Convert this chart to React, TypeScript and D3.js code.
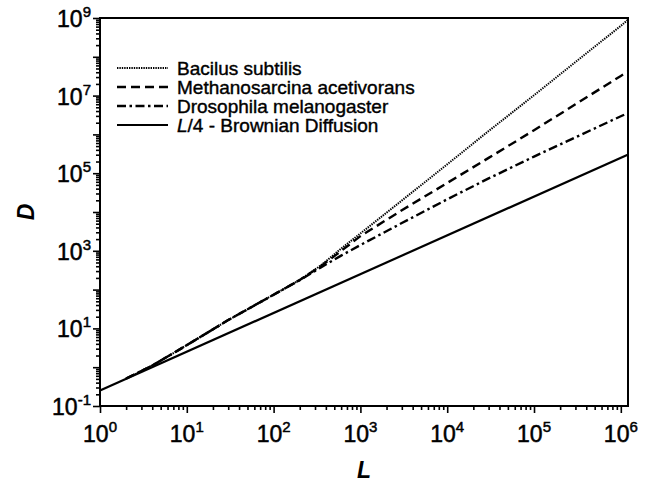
import React, { useRef, useEffect } from 'react';
import * as d3 from 'd3';

// values (L on x, D on y)
const lengths = [2, 4, 10, 30, 100, 200, 350, 600, 1000, 3000, 1e4, 3e4, 1e5, 3e5, 1e6, 1.2e6];
const bacilus = [0.51, 1.1, 3.7, 16.4, 73.8, 177, 419, 1138, 2805, 19720, 1.69e5, 1.22e6, 1.02e7, 7.33e7, 6.28e8, 8.85e8];
const methano = [0.51, 1.1, 3.7, 16.4, 73.8, 177, 400, 991, 2388, 11090, 55980, 2.48e5, 1.28e6, 5.96e6, 3.22e7, 4.14e7];
const drosophila = [0.51, 1.1, 3.7, 16.4, 73.8, 175, 373, 752, 1406, 5190, 21280, 73280, 2.68e5, 8.41e5, 2.94e6, 3.52e6];
const brownL = [1, 1.2e6];
const brownD = [0.25, 3e5];

const xExponents = [0, 1, 2, 3, 4, 5, 6];
const yExponents = [-1, 0, 1, 2, 3, 4, 5, 6, 7, 8, 9];
const yLabelExponents = [-1, 1, 3, 5, 7, 9];

const seriesNames = ['Bacilus subtilis', 'Methanosarcina acetivorans', 'Drosophila melanogaster'];

const FONT = '"Liberation Sans", Arial, Helvetica, sans-serif';

const App = () => {
    const svgRef = useRef<SVGSVGElement>(null);

    useEffect(() => {
        document.body.style.margin = '0';
        const svg = d3.select(svgRef.current);
        svg.selectAll('*').remove();

        const margin = { top: 18, right: 20, bottom: 78, left: 100 };
        const width = 648 - margin.left - margin.right;
        const height = 484 - margin.top - margin.bottom;

        const x = d3.scaleLog().domain([1, 1.21e6]).range([0, width]);
        const y = d3.scaleLog().domain([0.1, 1e9]).range([height, 0]);

        const chart = svg.append('g')
            .attr('transform', `translate(${margin.left},${margin.top})`);

        // minor ticks 2..9 inside each decade
        const xMinor: number[] = [];
        xExponents.forEach(e => { for (let m = 2; m < 10; m++) { const v = m * 10 ** e; if (v <= 1.21e6) xMinor.push(v); } });
        const yMinor: number[] = [];
        yExponents.slice(0, -1).forEach(e => { for (let m = 2; m < 10; m++) yMinor.push(m * 10 ** e); });

        const tickStyle = (g: any) => {
            g.select('.domain').remove();
            g.selectAll('line').attr('stroke', '#000').attr('stroke-width', 1.6);
            g.selectAll('text').remove();
        };

        chart.append('g').attr('transform', `translate(0,${height})`)
            .call(d3.axisBottom(x).tickValues(xExponents.map(e => 10 ** e)).tickSize(7).tickFormat(() => ''))
            .call(tickStyle);
        chart.append('g').attr('transform', `translate(0,${height})`)
            .call(d3.axisBottom(x).tickValues(xMinor).tickSize(4).tickFormat(() => ''))
            .call(tickStyle);
        chart.append('g')
            .call(d3.axisLeft(y).tickValues(yExponents.map(e => 10 ** e)).tickSize(7).tickFormat(() => ''))
            .call(tickStyle);
        chart.append('g')
            .call(d3.axisLeft(y).tickValues(yMinor).tickSize(4).tickFormat(() => ''))
            .call(tickStyle);

        // frame
        chart.append('rect')
            .attr('width', width).attr('height', height)
            .attr('fill', 'none').attr('stroke', '#000').attr('stroke-width', 2);

        // tick labels with superscripts
        xExponents.forEach(e => {
            const t = chart.append('text')
                .attr('x', x(10 ** e)).attr('y', height + 36)
                .attr('text-anchor', 'middle')
                .attr('font-family', FONT).attr('font-size', 23).attr('fill', '#000')
                .attr('stroke', '#000').attr('stroke-width', 0.5)
                .text('10');
            t.append('tspan').attr('dy', -10).attr('font-size', 15).text(String(e));
        });
        yLabelExponents.forEach(e => {
            const t = chart.append('text')
                .attr('x', -9).attr('y', y(10 ** e) + 9)
                .attr('text-anchor', 'end')
                .attr('font-family', FONT).attr('font-size', 23).attr('fill', '#000')
                .attr('stroke', '#000').attr('stroke-width', 0.5)
                .text('10');
            t.append('tspan').attr('dy', -10).attr('font-size', 15).text(String(e));
        });

        // axis titles
        svg.append('text')
            .attr('x', margin.left + width / 2).attr('y', 478)
            .attr('text-anchor', 'middle')
            .attr('font-family', FONT).attr('font-size', 23).attr('font-style', 'italic').attr('font-weight', 'bold')
            .text('L');
        svg.append('text')
            .attr('transform', `translate(34,${margin.top + height / 2}) rotate(-90)`)
            .attr('text-anchor', 'middle')
            .attr('font-family', FONT).attr('font-size', 23).attr('font-style', 'italic').attr('font-weight', 'bold')
            .text('D');

        const line = d3.line<[number, number]>().x(d => x(d[0])).y(d => y(d[1]));

        const styles = [
            { dash: '1.4,1', w: 2 },
            { dash: '9,5', w: 2.4 },
            { dash: '9,3.5,2.5,3.5', w: 2.4 },
            { dash: null, w: 2.2 },
        ];

        const series: [number, number][][] = [
            lengths.map((l, i) => [l, bacilus[i]]),
            lengths.map((l, i) => [l, methano[i]]),
            lengths.map((l, i) => [l, drosophila[i]]),
            brownL.map((l, i) => [l, brownD[i]]),
        ];

        series.forEach((s, i) => {
            chart.append('path')
                .datum(s)
                .attr('d', line)
                .attr('fill', 'none')
                .attr('stroke', '#000')
                .attr('stroke-width', styles[i].w)
                .attr('stroke-dasharray', styles[i].dash);
        });

        // legend
        const legend = svg.append('g');
        const rowY = [68, 87, 106, 125];
        rowY.forEach((ry, i) => {
            legend.append('line')
                .attr('x1', 117).attr('x2', 168).attr('y1', ry).attr('y2', ry)
                .attr('stroke', '#000')
                .attr('stroke-width', styles[i].w)
                .attr('stroke-dasharray', styles[i].dash);
            const t = legend.append('text')
                .attr('x', 177).attr('y', ry + 7)
                .attr('font-family', FONT).attr('font-size', 19).attr('fill', '#000')
                .attr('stroke', '#000').attr('stroke-width', 0.4);
            if (i < 3) {
                t.text(seriesNames[i]);
            } else {
                t.append('tspan').attr('font-style', 'italic').text('L');
                t.append('tspan').text('/4 - Brownian Diffusion');
            }
        });
    }, []);

    return (
        <svg ref={svgRef} width="648" height="484" style={{ display: 'block', background: '#fff' }}></svg>
    );
};

export default App;
